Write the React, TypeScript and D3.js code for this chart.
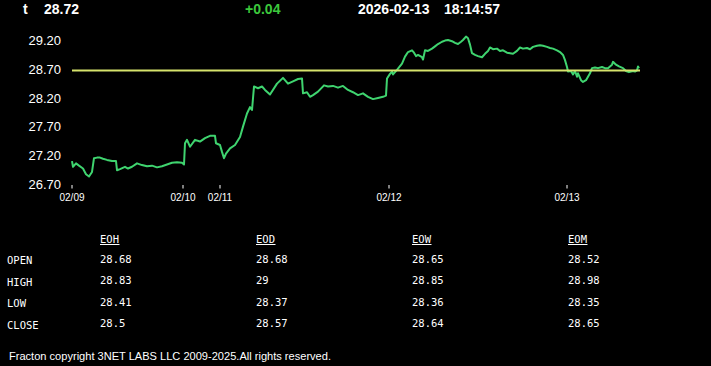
import React from "react";
import * as d3 from "d3";

// ---- data ----
const barIndex = [
  0, 1, 4, 7, 11, 14, 17, 20, 22, 25, 28, 31, 35, 40, 44, 45, 48, 53, 56, 60, 65, 70, 75, 80, 85, 90, 95, 100, 105, 110,
  112, 113, 115, 118, 123, 128, 133, 138, 143, 144, 148, 150, 152, 154, 158, 163, 168, 171, 175, 178, 180, 182, 186, 190,
  193, 198, 205, 211, 216, 221, 226, 230, 231, 235, 238, 241, 246, 252, 256, 261, 266, 271, 276, 281, 286, 291, 296, 301,
  306, 311, 314, 315, 318, 320, 321, 325, 330, 333, 336, 340, 342, 344, 346, 350, 351, 353, 356, 360, 363, 366, 370, 373,
  376, 380, 383, 386, 389, 391, 394, 396, 398, 400, 403, 406, 410, 413, 416, 418, 421, 425, 428, 431, 435, 438, 441, 445,
  448, 451, 455, 458, 461, 465, 468, 471, 475, 478, 481, 485, 488, 491, 493, 495, 496, 499, 501, 503, 505, 506, 509, 511,
  514, 516, 518, 520, 523, 526, 530, 533, 536, 540, 541, 544, 547, 551, 554, 557, 561, 563, 565, 566, 567,
];
const price = [
  27.1, 27.0, 27.06, 27.02, 26.97, 26.87, 26.83, 26.91, 27.15, 27.16, 27.16, 27.14, 27.12, 27.1, 27.1, 26.94, 26.96, 27.0,
  26.97, 27.0, 27.06, 27.03, 27.01, 27.02, 26.99, 27.01, 27.04, 27.07, 27.08, 27.07,
  27.04, 27.41, 27.47, 27.35, 27.47, 27.44, 27.5, 27.54, 27.54, 27.41, 27.38, 27.26, 27.15, 27.23, 27.32, 27.38, 27.52,
  27.7, 27.93, 28.04, 27.99, 28.4, 28.37, 28.4,
  28.34, 28.26, 28.45, 28.55, 28.45, 28.49, 28.53, 28.54, 28.28, 28.3, 28.22, 28.25, 28.31, 28.42, 28.4, 28.41, 28.38,
  28.41, 28.34, 28.3, 28.25, 28.28, 28.22, 28.18,
  28.2, 28.22, 28.24, 28.54, 28.62, 28.66, 28.61, 28.69, 28.8, 28.92, 29.0, 29.03, 28.99, 28.93, 28.95, 28.91, 28.87,
  29.03, 29.02, 29.06, 29.1, 29.14, 29.18, 29.2,
  29.21, 29.19, 29.16, 29.14, 29.18, 29.21, 29.27, 29.24, 29.13, 28.98, 28.95, 28.93, 28.91, 28.97, 29.02, 29.08, 29.05,
  29.06, 29.02, 29.03, 28.99, 28.98, 28.97, 29.02,
  29.08, 29.06, 29.07, 29.05, 29.09, 29.11, 29.12, 29.11, 29.09, 29.07, 29.06, 29.03, 29.0, 28.95, 28.86, 28.74, 28.66,
  28.67, 28.61, 28.67, 28.57, 28.63, 28.51, 28.48,
  28.51, 28.57, 28.63, 28.72, 28.73, 28.72, 28.74, 28.72, 28.72, 28.78, 28.83, 28.78, 28.75, 28.72, 28.67, 28.65, 28.67,
  28.66, 28.68, 28.75, 28.72,
];
const refPrice = 28.68;
const yTicks = [26.7, 27.2, 27.7, 28.2, 28.7, 29.2];
const xTickIndex = [0, 111, 148, 317, 495];
const xTickLabels = ["02/09", "02/10", "02/11", "02/12", "02/13"];

const symbol = "t";
const lastPrice = "28.72";
const change = "+0.04";
const dateText = "2026-02-13";
const timeText = "18:14:57";

const tableCols = ["EOH", "EOD", "EOW", "EOM"];
const tableRows = ["OPEN", "HIGH", "LOW", "CLOSE"];
const eohVals = ["28.68", "28.83", "28.41", "28.5"];
const eodVals = ["28.68", "29", "28.37", "28.57"];
const eowVals = ["28.65", "28.85", "28.36", "28.64"];
const eomVals = ["28.52", "28.98", "28.35", "28.65"];
const tableVals = [eohVals, eodVals, eowVals, eomVals];

const footer = "Fracton copyright 3NET LABS LLC 2009-2025.All rights reserved.";

// ---- layout ----
const W = 711;
const H = 366;

export default function App() {
  React.useEffect(() => {
    document.body.style.margin = "0";
    document.body.style.background = "#000";
  }, []);

  const x = d3.scaleLinear().domain([0, 567]).range([72, 639]);
  const y = d3.scaleLinear().domain([26.7, 29.2]).range([184, 40.6]);
  const pts: [number, number][] = barIndex.map((b, i) => [b, price[i]]);
  const line = d3
    .line<[number, number]>()
    .x((d) => x(d[0]))
    .y((d) => y(d[1]));

  const sans = "Arial, 'Liberation Sans', sans-serif";
  const mono = "'DejaVu Sans Mono', 'Liberation Mono', monospace";
  const colX = [100, 256, 412, 568];
  const rowY = [262.5, 284, 305.5, 327];

  return (
    <svg width={W} height={H} style={{ position: "absolute", left: 0, top: 0, background: "#000" }}>
      <rect width={W} height={H} fill="#000" />
      {/* header */}
      <g fontFamily={sans} fontWeight="bold" fontSize={14} fill="#fff">
        <text x={23} y={14}>{symbol}</text>
        <text x={44} y={14}>{lastPrice}</text>
        <text x={245} y={14} fill="#3cc83c">{change}</text>
        <text x={358} y={14}>{dateText}</text>
        <text x={444} y={14}>{timeText}</text>
      </g>
      {/* y axis labels */}
      <g fontFamily={sans} fontSize={13} fill="#fff" textAnchor="end">
        {yTicks.map((t) => (
          <text key={t} x={61} y={y(t)} dy="0.35em">
            {t.toFixed(2)}
          </text>
        ))}
      </g>
      {/* x axis */}
      <g fontFamily={sans} fontSize={10} fill="#fff" textAnchor="middle">
        {xTickIndex.map((t, i) => (
          <g key={t}>
            <line x1={x(t)} x2={x(t)} y1={185} y2={188.5} stroke="#fff" strokeWidth={1} />
            <text x={x(t)} y={200.5}>{xTickLabels[i]}</text>
          </g>
        ))}
      </g>
      {/* price line */}
      <path d={line(pts) || ""} fill="none" stroke="#3fd46f" strokeWidth={2} strokeLinejoin="round" />
      {/* reference line */}
      <line
        x1={x(0)}
        x2={x(567) + 1}
        y1={y(refPrice)}
        y2={y(refPrice)}
        stroke="#d6e36c"
        strokeWidth={2}
      />
      {/* table */}
      <g fontFamily={mono} fontSize={10.5} fill="#fff">
        {tableCols.map((c, i) => (
          <g key={c}>
            <text x={colX[i]} y={243}>{c}</text>
            <line x1={colX[i]} x2={colX[i] + 19.5} y1={244.5} y2={244.5} stroke="#fff" strokeWidth={1} />
          </g>
        ))}
        {tableRows.map((r, j) => (
          <text key={r} x={7} y={rowY[j] + 1.5}>{r}</text>
        ))}
        {tableVals.map((col, i) =>
          col.map((v, j) => (
            <text key={i + "-" + j} x={colX[i]} y={rowY[j]}>
              {v}
            </text>
          ))
        )}
      </g>
      {/* footer */}
      <text x={9} y={360} fontFamily={sans} fontSize={11.5} fill="#fff" textLength={322} lengthAdjust="spacingAndGlyphs">
        {footer}
      </text>
    </svg>
  );
}
